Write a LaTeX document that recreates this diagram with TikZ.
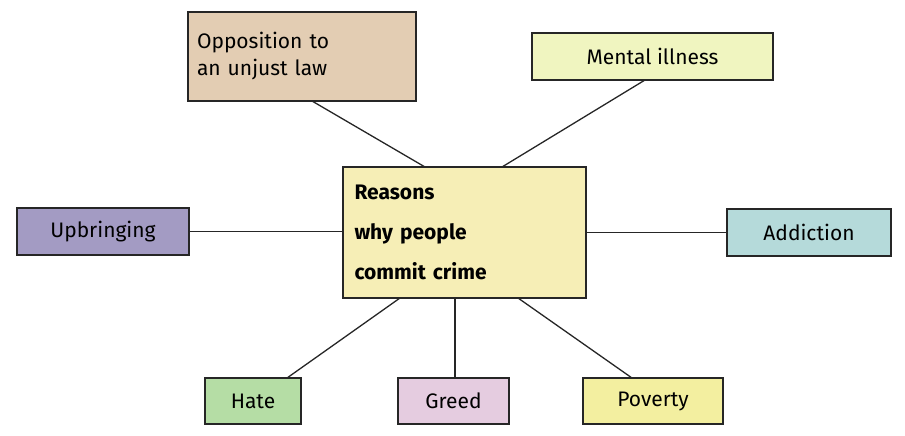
\documentclass[tikz,border=0pt]{standalone}
\usepackage{fontspec}
\setmainfont{Fira Sans}
\definecolor{cmain}{HTML}{F6EEB6}
\definecolor{copp}{HTML}{E3CDB3}
\definecolor{cmen}{HTML}{F0F5C0}
\definecolor{cupb}{HTML}{A39BC3}
\definecolor{cadd}{HTML}{B5DADA}
\definecolor{chat}{HTML}{B5DDA5}
\definecolor{cgre}{HTML}{E5CCE0}
\definecolor{cpov}{HTML}{F3EFA0}
\begin{document}
\begin{tikzpicture}[x=1pt,y=-1pt,
  box/.style={draw=black!85,line width=1.2pt,inner sep=0pt,font=\fontsize{21}{27}\selectfont,align=left},
  link/.style={line width=1.3pt,black!85}]
\useasboundingbox (0,0) rectangle (905,436);
\node[box,fill=cmain,minimum width=243,minimum height=131,font=\bfseries\fontsize{21}{40}\selectfont,text width=220] (m) at (464.5,232.5) {Reasons\\why people\\commit crime};
\node[box,fill=copp,minimum width=228,minimum height=89,text width=210] (o) at (302,56.5) {Opposition to\\an unjust law};
\node[box,fill=cmen,minimum width=241,minimum height=47] (me) at (652.5,56.5) {Mental illness};
\node[box,fill=cupb,minimum width=172,minimum height=47] (u) at (103,231.5) {Upbringing};
\node[box,fill=cadd,minimum width=164,minimum height=47] (a) at (809,232.5) {Addiction};
\node[box,fill=chat,minimum width=96,minimum height=46] (h) at (253,401) {Hate};
\node[box,fill=cgre,minimum width=111,minimum height=46] (g) at (453.5,401) {Greed};
\node[box,fill=cpov,minimum width=140,minimum height=46] (p) at (653,401) {Poverty};
\coordinate (o1) at (312,101); \coordinate (m1) at (425,167);
\coordinate (e1) at (645,80); \coordinate (m2) at (502,167);
\coordinate (h1) at (287,378); \coordinate (m3) at (400,298);
\coordinate (g1) at (455,378); \coordinate (m4) at (455,298);
\coordinate (p1) at (632,378); \coordinate (m5) at (518,298);
\begin{scope}[on background layer/.style={}]
\draw[link] (o1) -- (m1);
\draw[link] (e1) -- (m2);
\draw[link] (u.east) -- (m.west |- u.east);
\draw[link] (a.west) -- (m.east |- a.west);
\draw[link] (h1) -- (m3);
\draw[link] (g1) -- (m4);
\draw[link] (p1) -- (m5);
\end{scope}
\end{tikzpicture}
\end{document}
